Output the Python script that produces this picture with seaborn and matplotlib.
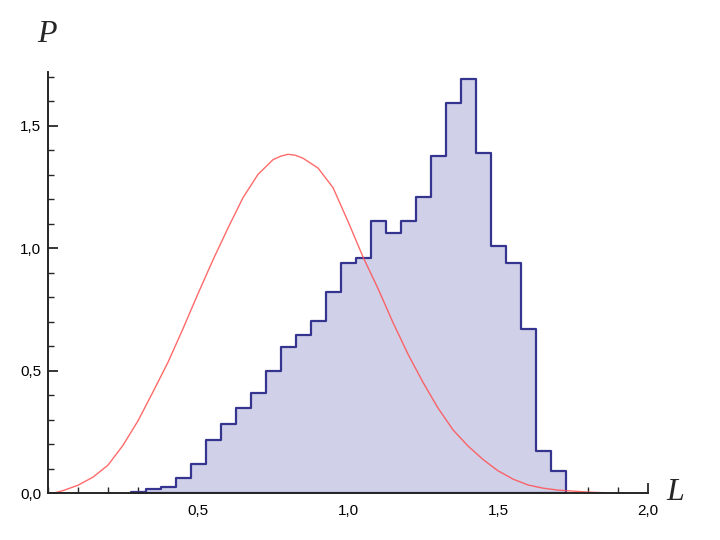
import numpy as np
import pandas as pd
import matplotlib
matplotlib.use("Agg")
import matplotlib.pyplot as plt
import seaborn as sns
from matplotlib.ticker import MultipleLocator, FixedLocator, FuncFormatter

# Histogram bins (edges) and normalized heights
bin_edges = [0.275, 0.325, 0.375, 0.425, 0.475, 0.525, 0.575, 0.625, 0.675, 0.725,
             0.775, 0.825, 0.875, 0.925, 0.975, 1.025, 1.075, 1.125, 1.175, 1.225,
             1.275, 1.325, 1.375, 1.425, 1.475, 1.525, 1.575, 1.625, 1.675, 1.725]
bin_heights = [0.005, 0.018, 0.027, 0.064, 0.12, 0.218, 0.282, 0.347, 0.408, 0.50,
               0.596, 0.646, 0.704, 0.823, 0.939, 0.959, 1.113, 1.064, 1.113, 1.209,
               1.377, 1.594, 1.69, 1.39, 1.011, 0.939, 0.669, 0.174, 0.092]

# Red curve, points
curve_L = [0.025, 0.05, 0.1, 0.15, 0.2, 0.25, 0.3, 0.35, 0.4, 0.45, 0.5, 0.55, 0.6,
           0.65, 0.7, 0.75, 0.775, 0.8, 0.825, 0.85, 0.9, 0.95, 1.0, 1.05, 1.1, 1.15,
           1.2, 1.25, 1.3, 1.35, 1.4, 1.45, 1.5, 1.55, 1.6, 1.65, 1.7, 1.8, 1.86]
curve_P = [0.003, 0.011, 0.033, 0.066, 0.115, 0.196, 0.296, 0.414, 0.535, 0.672,
           0.815, 0.953, 1.083, 1.207, 1.302, 1.362, 1.376, 1.384, 1.38, 1.368, 1.328,
           1.248, 1.11, 0.965, 0.836, 0.697, 0.568, 0.453, 0.348, 0.259, 0.193, 0.138,
           0.092, 0.058, 0.034, 0.021, 0.013, 0.005, 0.002]

x_major = [0.5, 1.0, 1.5, 2.0]
y_major = [0.0, 0.5, 1.0, 1.5]

centers = [(bin_edges[i] + bin_edges[i + 1]) / 2 for i in range(len(bin_heights))]
df_hist = pd.DataFrame({"L": centers, "P": bin_heights})
df_curve = pd.DataFrame({"L": curve_L, "P": curve_P})

sns.set_style("ticks")
plt.rcParams["font.family"] = ["Liberation Sans", "DejaVu Sans"]

fig = plt.figure(figsize=(7.2, 5.4), dpi=100)
ax = fig.add_axes([48 / 720, 1 - 493.3 / 540, 600 / 720, (493.3 - 72) / 540])

sns.histplot(data=df_hist, x="L", weights="P", bins=bin_edges, stat="count",
             element="step", fill=True, facecolor="#d0d0e8", edgecolor="#35358f",
             linewidth=1.6, alpha=1, ax=ax)
sns.lineplot(data=df_curve, x="L", y="P", color="#ff5050", linewidth=1.0, alpha=0.85, ax=ax)

ax.set_xlim(0, 2.0)
ax.set_ylim(0, 1.72)
ax.set_xlabel("")
ax.set_ylabel("")

ax.spines["top"].set_visible(False)
ax.spines["right"].set_visible(False)
ax.spines["left"].set_linewidth(1.4)
ax.spines["bottom"].set_linewidth(1.4)

comma = FuncFormatter(lambda v, p: f"{v:.1f}".replace(".", ","))
ax.xaxis.set_major_locator(FixedLocator(x_major))
ax.yaxis.set_major_locator(FixedLocator(y_major))
ax.xaxis.set_minor_locator(MultipleLocator(0.1))
ax.yaxis.set_minor_locator(MultipleLocator(0.1))
ax.xaxis.set_major_formatter(comma)
ax.yaxis.set_major_formatter(comma)
ax.tick_params(which="major", direction="in", length=7, width=1.1, labelsize=11,
               colors="black", pad=8)
ax.tick_params(which="minor", direction="in", length=4.5, width=1.0)
ax.tick_params(axis="y", which="major", pad=5)

fig.text(47 / 720, 1 - 35 / 540, "P", fontsize=23, fontstyle="italic",
         family=["Liberation Serif", "DejaVu Serif"], ha="center", va="center")
fig.text(675 / 720, 1 - 493 / 540, "L", fontsize=23, fontstyle="italic",
         family=["Liberation Serif", "DejaVu Serif"], ha="center", va="center")

fig.savefig("out.png", dpi=100)
